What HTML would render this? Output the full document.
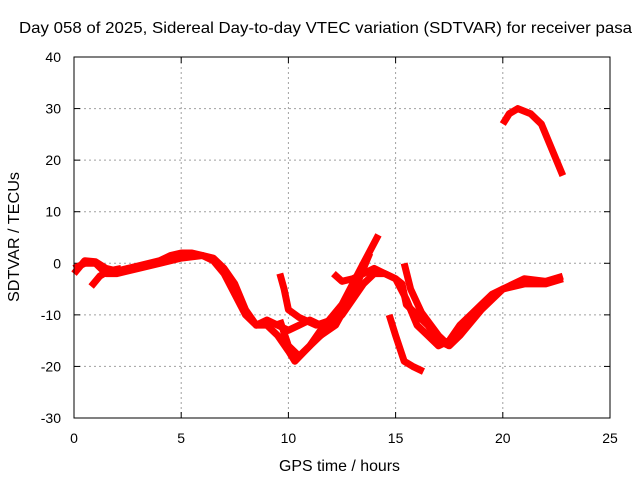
<!DOCTYPE html>
<html><head><meta charset="utf-8"><style>
body{margin:0;background:#fff;font-family:"Liberation Sans",sans-serif}
svg text{font-family:"Liberation Sans",sans-serif;font-size:14px;fill:#000}
</style></head><body>
<svg id="c" width="640" height="480">
<rect width="640" height="480" fill="#fff"/>
<text x="19" y="33" textLength="613" lengthAdjust="spacingAndGlyphs" style="font-size:16px">Day 058 of 2025, Sidereal Day-to-day VTEC variation (SDTVAR) for receiver pasa</text>
<text x="279" y="471" textLength="121" lengthAdjust="spacingAndGlyphs" style="font-size:16px">GPS time / hours</text>
<text transform="translate(19,302) rotate(-90)" textLength="130" lengthAdjust="spacingAndGlyphs" style="font-size:16px">SDTVAR / TECUs</text>
<g id="grid"></g><g id="series"></g>
<rect x="74" y="57" width="536" height="361" fill="none" stroke="#000"/>
</svg>
<script>
const xTicks=[0,5,10,15,20,25];
const yTicks=[-30,-20,-10,0,10,20,30,40];
const s1x=[0,0.5,1,1.5,2,3,4,5,6,6.5,7,7.5,8,8.5,9,9.5,10,10.3,11,12,12.5,13,13.5,14,14.5,15,15.5,16,16.5,17,17.5,18,18.5,19,19.5,20,21,22,22.8];
const s1y=[-1,0,0,-2,-2,-1,0,1,1.5,1,-1,-4,-9,-12,-12,-14,-17,-19,-16,-12,-10,-7,-4,-2,-2,-3,-7,-12,-14,-16,-15,-12,-10,-8,-6,-5,-4,-4,-3];
const s2x=[0,0.5,1,1.5,2,3,4,4.5,5,5.5,6,6.5,7,7.5,8,8.5,9,9.5,10,10.5,11,11.5,12];
const s2y=[-2,0.5,0.3,-1,-1.5,-0.5,0.5,1.5,2,2,1.5,0.5,-2,-6,-10,-12,-11,-12,-13,-12,-11,-12,-12];
const s3x=[9.6,9.8,10,10.5,11.3,12];
const s3y=[-2,-5,-9,-10.5,-12,-11];
const s4x=[9.6,10,10.5,11,11.5,12.5,13,13.5,14.2];
const s4y=[-11,-16,-18,-16,-13,-8,-4,0,5.5];
const s5x=[11.5,12.2,13,13.5,13.8];
const s5y=[-14,-12,-6,-1,2];
const s6x=[12.1,12.5,13,13.5,14,14.5,15,15.3,15.5,16.5,17,17.5];
const s6y=[-2,-3.5,-3,-2,-1,-2,-3,-4,-8,-12,-15,-16];
const s7x=[15.4,15.7,16.2,17,17.5,18,19,20,21,22,22.8];
const s7y=[0,-5,-9.5,-14,-16,-14,-9,-5,-3,-3.5,-2.5];
const s8x=[14.7,15,15.4,15.8,16.3];
const s8y=[-10,-14,-19,-20,-21];
const s9x=[20,20.3,20.7,21.3,21.8,22.3,22.8];
const s9y=[27,29,30,29,27,22,17];
const s10x=[0.8,1.2,1.6,2.2];
const s10y=[-4.5,-2.5,-1.5,-1];
const X=v=>74+v*536/25, Y=v=>418-(v+30)*361/70;
const NS="http://www.w3.org/2000/svg",g=document.getElementById('grid'),sg=document.getElementById('series');
function ln(p,x1,y1,x2,y2,st,dash){const l=document.createElementNS(NS,'line');l.setAttribute('x1',x1);l.setAttribute('y1',y1);l.setAttribute('x2',x2);l.setAttribute('y2',y2);l.setAttribute('stroke',st);if(dash)l.setAttribute('stroke-dasharray',dash);p.appendChild(l);return l;}
xTicks.forEach(t=>{const x=X(t);
if(t>0&&t<25){const l=ln(g,x,57,x,418,'#a0a0a0','2,3');

}
ln(g,x,418,x,412,'#000');ln(g,x,57,x,63,'#000');
const tx=document.createElementNS(NS,'text');tx.setAttribute('x',x);tx.setAttribute('y',443);tx.setAttribute('text-anchor','middle');tx.textContent=t;


g.appendChild(tx);});
yTicks.forEach(t=>{const y=Y(t);
if(t>-30&&t<40){const l=ln(g,74,y,610,y,'#a0a0a0','2,3');

}
ln(g,74,y,80,y,'#000');ln(g,610,y,604,y,'#000');
const tx=document.createElementNS(NS,'text');tx.setAttribute('x',61);tx.setAttribute('y',y+5);tx.setAttribute('text-anchor','end');tx.textContent=t;


g.appendChild(tx);});
const S=[[s1x,s1y],[s2x,s2y],[s3x,s3y],[s4x,s4y],[s5x,s5y],[s6x,s6y],[s7x,s7y],[s8x,s8y],[s9x,s9y],[s10x,s10y]];
S.forEach((s,i)=>{const p=document.createElementNS(NS,'polyline');
p.setAttribute('points',s[0].map((v,j)=>X(v)+','+Y(s[1][j])).join(' '));
p.setAttribute('fill','none');p.setAttribute('stroke','#f00');p.setAttribute('stroke-width','7');p.setAttribute('stroke-linejoin','round');


sg.appendChild(p);});
</script>
</body></html>
